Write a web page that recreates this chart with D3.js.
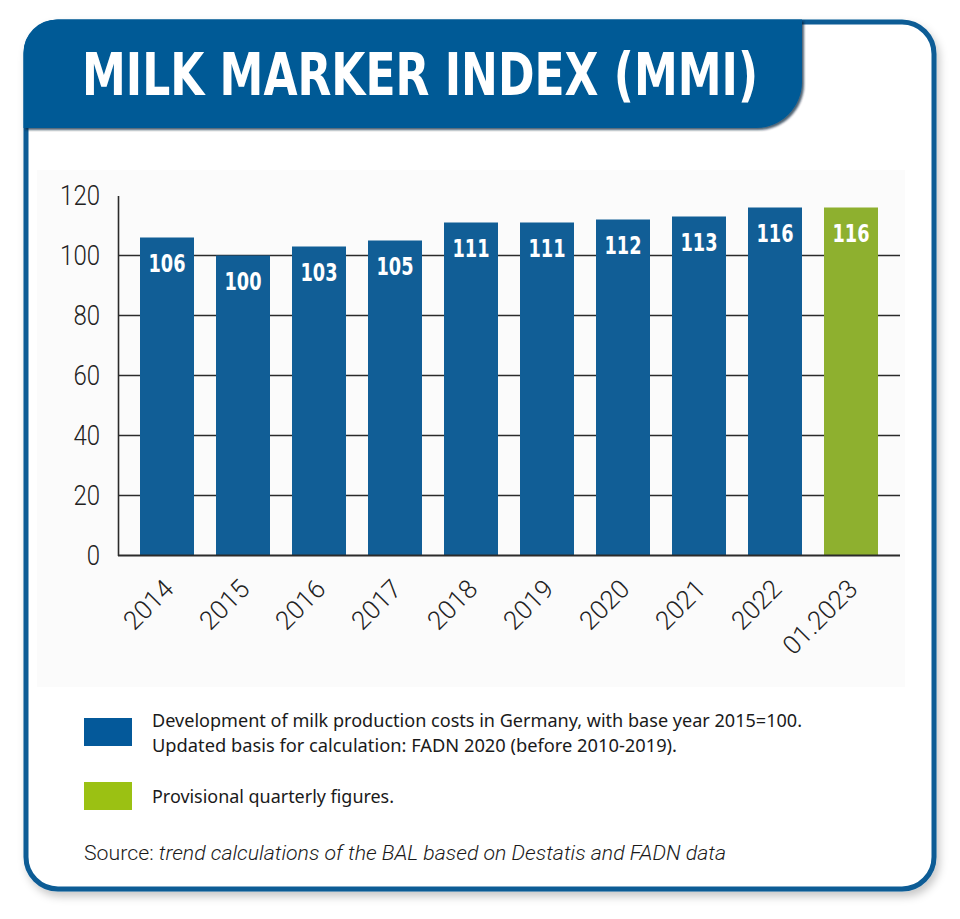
<!DOCTYPE html>
<html>
<head>
<meta charset="utf-8">
<script src="https://cdn.jsdelivr.net/npm/d3@7/dist/d3.min.js"></script>
<style>
  html, body { margin: 0; padding: 0; background: #ffffff; }
  svg { display: block; }
</style>
</head>
<body>
<svg id="chart" width="960" height="919"></svg>
<script>
// ---- Data ----
const categories = ["2014","2015","2016","2017","2018","2019","2020","2021","2022","01.2023"];
const values = [106, 100, 103, 105, 111, 111, 112, 113, 116, 116];
const provisional = [false,false,false,false,false,false,false,false,false,true];
const yTicks = [0, 20, 40, 60, 80, 100, 120];
const gridTicks = [20, 40, 60, 80, 100];
const titleText = "MILK MARKER INDEX (MMI)";
const legendItems = [
  { key: "final", lines: ["Development of milk production costs in Germany, with base year 2015=100.",
                          "Updated basis for calculation: FADN 2020 (before 2010-2019)."] },
  { key: "prov", lines: ["Provisional quarterly figures."] }
];
const sourcePrefix = "Source: ";
const sourceText = "trend calculations of the BAL based on Destatis and FADN data";

// ---- Styles ----
const C = {
  frame: "#0a5b95",
  header: "#045a96",
  bar: "#115e96",
  barProv: "#8eb02f",
  legBlue: "#04599a",
  legGreen: "#9bc113",
  axis: "#2b2b2b",
  text: "#222222",
  panel: "#fbfbfb"
};
const condensed = "'Liberation Sans Narrow','DejaVu Sans Condensed','Roboto',sans-serif";
const light = "'Roboto','Open Sans',sans-serif";
const body = "'Noto Sans','Open Sans',sans-serif";

const svg = d3.select("#chart");
const defs = svg.append("defs");
const fs = defs.append("filter").attr("id","frameShadow").attr("x","-5%").attr("y","-5%").attr("width","112%").attr("height","112%");
fs.append("feDropShadow").attr("dx",3).attr("dy",5).attr("stdDeviation",4).attr("flood-color","#000").attr("flood-opacity",0.22);
const hs = defs.append("filter").attr("id","headShadow").attr("x","-5%").attr("y","-10%").attr("width","112%").attr("height","130%");
hs.append("feDropShadow").attr("dx",2).attr("dy",2).attr("stdDeviation",1.2).attr("flood-color","#001a33").attr("flood-opacity",0.7);

// Frame
svg.append("rect")
  .attr("x", 26).attr("y", 22).attr("width", 908).attr("height", 867)
  .attr("rx", 32).attr("ry", 32)
  .attr("fill", "#fff").attr("stroke", C.frame).attr("stroke-width", 5)
  .attr("filter", "url(#frameShadow)");

// Chart panel
svg.append("rect").attr("x", 37).attr("y", 170).attr("width", 868).attr("height", 517).attr("fill", C.panel);

// Header
const hx0 = 23.5, hy0 = 19.5, hx1 = 802, hy1 = 128, r0 = 33, r1 = 46;
const hp = d3.path();
hp.moveTo(hx0, hy1);
hp.lineTo(hx0, hy0 + r0);
hp.arcTo(hx0, hy0, hx0 + r0, hy0, r0);
hp.lineTo(hx1, hy0);
hp.lineTo(hx1, hy1 - r1);
hp.arcTo(hx1, hy1, hx1 - r1, hy1, r1);
hp.closePath();
svg.append("path").attr("d", hp.toString()).attr("fill", C.header).attr("filter", "url(#headShadow)");

svg.append("text")
  .attr("x", 82).attr("y", 95)
  .attr("fill", "#fff")
  .attr("font-family", condensed).attr("font-weight", "bold").attr("font-size", 58)
  .attr("textLength", 676).attr("lengthAdjust", "spacingAndGlyphs")
  .text(titleText);

// ---- Scales ----
const x = d3.scaleBand().domain(categories).range([129, 889]).paddingInner(0.2895).paddingOuter(0.14475);
const y = d3.scaleLinear().domain([0, 120]).range([555.5, 195.5]);
const axisLeftX = 118, axisRightX = 900;

// Gridlines
svg.append("g").selectAll("line").data(gridTicks).join("line")
  .attr("x1", axisLeftX).attr("x2", axisRightX)
  .attr("y1", d => y(d)).attr("y2", d => y(d))
  .attr("stroke", C.axis).attr("stroke-width", 1.6);

// Bars
const data = categories.map((c, i) => ({ c, v: values[i], p: provisional[i] }));
svg.append("g").selectAll("rect").data(data).join("rect")
  .attr("x", d => x(d.c)).attr("width", x.bandwidth())
  .attr("y", d => y(d.v)).attr("height", d => y(0) - y(d.v))
  .attr("fill", d => d.p ? C.barProv : C.bar);

// Value labels
svg.append("g").selectAll("text").data(data).join("text")
  .attr("x", d => x(d.c) + x.bandwidth() / 2)
  .attr("y", d => y(d.v) + 34)
  .attr("text-anchor", "middle")
  .attr("fill", "#fff")
  .attr("font-family", condensed).attr("font-weight", "bold").attr("font-size", 24)
  .attr("textLength", 37).attr("lengthAdjust", "spacingAndGlyphs")
  .text(d => d.v);

// Y axis
const yAxis = svg.append("g").attr("transform", `translate(${axisLeftX},0)`)
  .call(d3.axisLeft(y).tickValues(yTicks).tickSize(0).tickPadding(18));
yAxis.select(".domain").attr("stroke", C.axis).attr("stroke-width", 1.6);
yAxis.selectAll("text")
  .attr("font-family", light).attr("font-weight", 300).attr("font-size", 28)
  .attr("fill", C.text)
  .attr("textLength", d => String(d).length * 13.3).attr("lengthAdjust", "spacingAndGlyphs");

// Baseline
svg.append("line").attr("x1", axisLeftX).attr("x2", axisRightX)
  .attr("y1", y(0)).attr("y2", y(0)).attr("stroke", C.axis).attr("stroke-width", 1.8);

// X axis labels
const xAxis = svg.append("g").attr("transform", `translate(0,${y(0)})`)
  .call(d3.axisBottom(x).tickSize(0));
xAxis.select(".domain").remove();
xAxis.selectAll("text")
  .attr("font-family", light).attr("font-weight", 300).attr("font-size", 26)
  .attr("fill", C.text)
  .attr("text-anchor", "end")
  .attr("dy", 0)
  .attr("transform", "translate(6,33) rotate(-45)");

// Legend
const legColors = { final: C.legBlue, prov: C.legGreen };
const legY = [718, 782];
const legBase = [[727, 752], [803]];
const legWidths = [[650, 525], [242]];
legendItems.forEach((it, i) => {
  svg.append("rect").attr("x", 84).attr("y", legY[i]).attr("width", 48).attr("height", 28)
    .attr("fill", legColors[it.key]);
  it.lines.forEach((ln, j) => {
    svg.append("text").attr("x", 152).attr("y", legBase[i][j])
      .attr("font-family", body).attr("font-size", 17.5).attr("fill", "#1a1a1a")
      .attr("textLength", legWidths[i][j]).attr("lengthAdjust", "spacingAndGlyphs")
      .text(ln);
  });
});

// Source
const src = svg.append("text").attr("x", 84).attr("y", 860)
  .attr("font-family", light).attr("font-weight", 300).attr("font-size", 20).attr("fill", "#1a1a1a")
  .attr("textLength", 642).attr("lengthAdjust", "spacingAndGlyphs");
src.append("tspan").text(sourcePrefix);
src.append("tspan").attr("font-style", "italic").text(sourceText);
</script>
</body>
</html>
